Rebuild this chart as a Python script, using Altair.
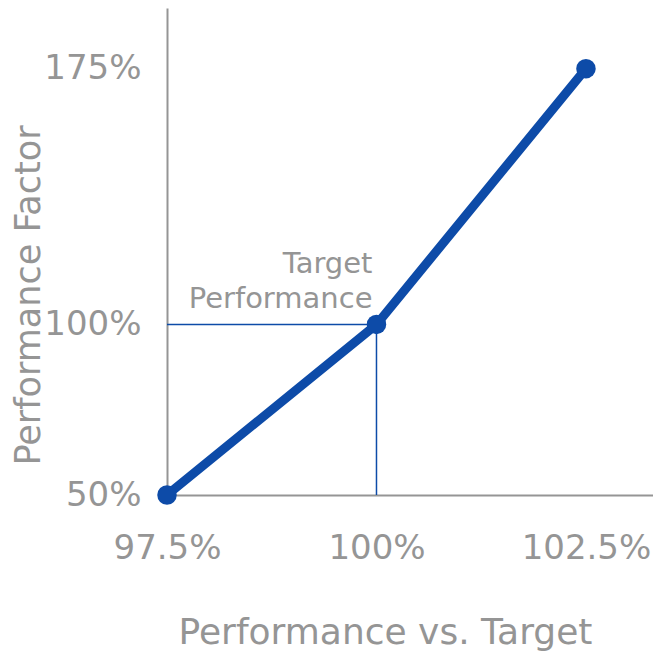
import altair as alt
import pandas as pd

# data
perf_vs_target = [97.5, 100.0, 102.5]
perf_factor = [50, 100, 175]
x_ticks = [97.5, 100.0, 102.5]
y_ticks = [50, 100, 175]
target_x = 100.0
target_y = 100
annotation = ["Target", "Performance"]

BLUE = "#0d4ba8"
GRAY = "#959595"
FONT = "DejaVu Sans"

df = pd.DataFrame({"x": perf_vs_target, "y": perf_factor})

xscale = alt.Scale(domain=[97.5, 103.3], nice=False, zero=False)
yscale = alt.Scale(domain=[50, 192.8], nice=False, zero=False)

base = alt.Chart(df)

line = base.mark_line(color=BLUE, strokeWidth=9).encode(
    x=alt.X("x:Q", scale=xscale, axis=alt.Axis(
        values=x_ticks, labelExpr="datum.value + '%'", title="Performance vs. Target",
        ticks=False, tickSize=0, grid=False, domainColor=GRAY, domainWidth=2,
        labelFont=FONT, labelFontSize=34, labelColor=GRAY, labelPadding=53,
        labelBaseline="middle", labelFlush=False,
        titleFont=FONT, titleFontSize=36, titleColor=GRAY, titleFontWeight="normal",
        titleX=218, titleY=148, titleBaseline="alphabetic", titleAlign="center")),
    y=alt.Y("y:Q", scale=yscale, axis=alt.Axis(
        values=y_ticks, labelExpr="datum.value + '%'", title="Performance Factor",
        ticks=False, tickSize=0, grid=False, domainColor=GRAY, domainWidth=2,
        labelFont=FONT, labelFontSize=34, labelColor=GRAY, labelPadding=26,
        labelBaseline="middle", labelAlign="right", labelFlush=False,
        titleFont=FONT, titleFontSize=35, titleColor=GRAY, titleFontWeight="normal",
        titleX=-156, titleY=287, titleAngle=270, titleBaseline="top", titleAlign="center")),
)

points = base.mark_circle(color=BLUE, size=380, opacity=1).encode(
    x=alt.X("x:Q", scale=xscale), y=alt.Y("y:Q", scale=yscale))

ref_df = pd.DataFrame({
    "x": [perf_vs_target[0], target_x],
    "x2": [target_x, target_x],
    "y": [target_y, perf_factor[0]],
    "y2": [target_y, target_y],
})
rules = alt.Chart(ref_df).mark_rule(color=BLUE, strokeWidth=1.5).encode(
    x=alt.X("x:Q", scale=xscale), x2="x2:Q",
    y=alt.Y("y:Q", scale=yscale), y2="y2:Q")

ann_df = pd.DataFrame({"x": [target_x], "y": [target_y], "t": [annotation]})
ann = alt.Chart(ann_df).mark_text(
    font=FONT, fontSize=29, color=GRAY, align="right", baseline="bottom",
    dx=-4, dy=-45, lineHeight=35).encode(
    x=alt.X("x:Q", scale=xscale), y=alt.Y("y:Q", scale=yscale), text="t")

chart = alt.layer(rules, line, points, ann).properties(
    width=486, height=487,
    autosize=alt.AutoSizeParams(type="none"),
    padding={"left": 159, "top": 0, "right": 0, "bottom": 158},
).configure_view(stroke=None)

chart.save("out.html", embed_options={"renderer": "svg", "actions": False})
